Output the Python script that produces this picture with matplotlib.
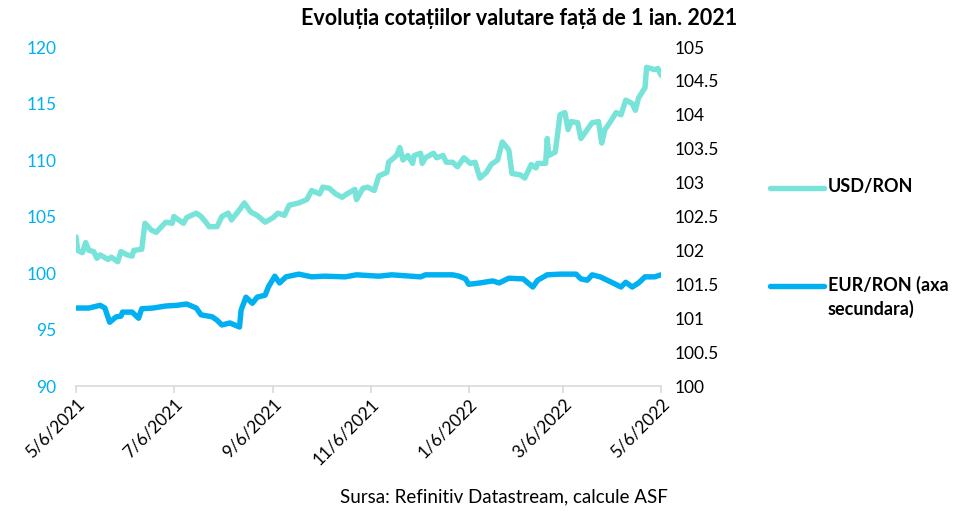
import datetime as dt
import matplotlib
matplotlib.use("Agg")
import matplotlib.pyplot as plt
import matplotlib.dates as mdates
from matplotlib.lines import Line2D
from matplotlib.ticker import FuncFormatter, MultipleLocator

plt.rcParams['font.family'] = ['Lato', 'DejaVu Sans']

# USD/RON, index vs 1 Jan 2021 (left axis)
usd_dates = ["2021-05-06", "2021-05-07", "2021-05-10", "2021-05-12", "2021-05-14", "2021-05-17",
             "2021-05-19", "2021-05-21", "2021-05-26", "2021-05-28", "2021-06-01", "2021-06-03",
             "2021-06-07", "2021-06-10", "2021-06-11", "2021-06-16", "2021-06-18", "2021-06-22",
             "2021-06-25", "2021-07-01", "2021-07-05", "2021-07-06", "2021-07-12", "2021-07-14",
             "2021-07-20", "2021-07-23", "2021-07-26", "2021-07-28", "2021-08-02", "2021-08-05",
             "2021-08-09", "2021-08-11", "2021-08-16", "2021-08-19", "2021-08-23", "2021-08-27",
             "2021-09-01", "2021-09-06", "2021-09-09", "2021-09-13", "2021-09-16", "2021-09-22",
             "2021-09-27", "2021-09-30", "2021-10-05", "2021-10-07", "2021-10-11", "2021-10-15",
             "2021-10-19", "2021-10-22", "2021-10-27", "2021-10-28", "2021-11-01", "2021-11-04",
             "2021-11-08", "2021-11-11", "2021-11-16", "2021-11-17", "2021-11-22", "2021-11-24",
             "2021-11-26", "2021-11-29", "2021-12-02", "2021-12-03", "2021-12-07", "2021-12-08",
             "2021-12-10", "2021-12-15", "2021-12-17", "2021-12-21", "2021-12-23", "2021-12-27",
             "2021-12-30", "2022-01-03", "2022-01-07", "2022-01-10", "2022-01-13", "2022-01-17",
             "2022-01-20", "2022-01-24", "2022-01-27", "2022-01-31", "2022-02-02", "2022-02-07",
             "2022-02-10", "2022-02-14", "2022-02-17", "2022-02-18", "2022-02-23", "2022-02-24",
             "2022-02-25", "2022-03-01", "2022-03-04", "2022-03-07", "2022-03-09", "2022-03-11",
             "2022-03-15", "2022-03-17", "2022-03-21", "2022-03-24", "2022-03-28", "2022-03-30",
             "2022-04-01", "2022-04-04", "2022-04-08", "2022-04-11", "2022-04-14", "2022-04-18",
             "2022-04-20", "2022-04-22", "2022-04-26", "2022-04-27", "2022-05-02", "2022-05-04",
             "2022-05-06"]
usd_ron = [103.2, 102.0, 101.8, 102.7, 102.0, 101.9,
           101.3, 101.6, 101.2, 101.4, 101.0, 101.9,
           101.6, 101.5, 102.0, 102.1, 104.4, 103.8,
           103.6, 104.5, 104.4, 105.0, 104.4, 104.9,
           105.3, 105.0, 104.5, 104.1, 104.1, 105.0,
           105.3, 104.7, 105.6, 106.2, 105.4, 105.1,
           104.5, 104.9, 105.3, 105.1, 106.0, 106.2,
           106.5, 107.3, 107.0, 107.6, 107.5, 107.0,
           106.7, 107.0, 107.4, 106.5, 107.5, 107.6,
           107.3, 108.6, 108.9, 109.8, 110.4, 111.1,
           110.0, 110.4, 109.7, 110.4, 110.6, 109.7,
           110.2, 110.6, 110.2, 110.4, 109.8, 109.8,
           109.4, 110.2, 109.7, 109.8, 108.4, 108.9,
           109.6, 110.0, 111.6, 110.9, 108.8, 108.7,
           108.4, 109.6, 109.3, 109.7, 109.7, 111.9,
           110.4, 110.7, 114.0, 114.2, 112.7, 113.4,
           113.3, 111.9, 112.7, 113.3, 113.4, 111.5,
           112.7, 113.3, 114.2, 114.0, 115.3, 115.0,
           114.4, 115.5, 116.4, 118.2, 118.0, 118.1,
           117.5]

# EUR/RON, index vs 1 Jan 2021 (secondary axis)
eur_dates = ["2021-05-06", "2021-05-14", "2021-05-21", "2021-05-24", "2021-05-27", "2021-05-31",
             "2021-06-03", "2021-06-04", "2021-06-10", "2021-06-14", "2021-06-16", "2021-06-23",
             "2021-07-01", "2021-07-08", "2021-07-14", "2021-07-20", "2021-07-23", "2021-07-30",
             "2021-08-02", "2021-08-05", "2021-08-10", "2021-08-16", "2021-08-17", "2021-08-20",
             "2021-08-24", "2021-08-27", "2021-09-01", "2021-09-03", "2021-09-07", "2021-09-10",
             "2021-09-14", "2021-09-22", "2021-09-30", "2021-10-08", "2021-10-21", "2021-10-28",
             "2021-11-11", "2021-11-19", "2021-12-07", "2021-12-10", "2021-12-27", "2021-12-31",
             "2022-01-04", "2022-01-06", "2022-01-13", "2022-01-21", "2022-01-25", "2022-01-31",
             "2022-02-09", "2022-02-15", "2022-02-18", "2022-02-24", "2022-03-04", "2022-03-14",
             "2022-03-17", "2022-03-21", "2022-03-24", "2022-03-29", "2022-04-06", "2022-04-11",
             "2022-04-14", "2022-04-18", "2022-04-22", "2022-04-26", "2022-05-02", "2022-05-06"]
eur_ron = [101.15, 101.15, 101.19, 101.15, 100.94, 101.02,
           101.03, 101.09, 101.09, 101.00, 101.14, 101.15,
           101.18, 101.19, 101.21, 101.15, 101.05, 101.02,
           100.97, 100.90, 100.93, 100.87, 101.12, 101.31,
           101.22, 101.31, 101.34, 101.46, 101.62, 101.52,
           101.61, 101.65, 101.61, 101.62, 101.61, 101.64,
           101.62, 101.64, 101.61, 101.64, 101.64, 101.62,
           101.58, 101.50, 101.52, 101.55, 101.52, 101.59,
           101.58, 101.46, 101.56, 101.64, 101.65, 101.65,
           101.58, 101.56, 101.64, 101.61, 101.52, 101.46,
           101.53, 101.46, 101.52, 101.61, 101.61, 101.64]

usd_x = [dt.datetime.strptime(d, "%Y-%m-%d") for d in usd_dates]
eur_x = [dt.datetime.strptime(d, "%Y-%m-%d") for d in eur_dates]

usd_color = "#78E3D8"
eur_color = "#00B0F0"

fig = plt.figure(figsize=(9.65, 5.11), dpi=100)
ax = fig.add_axes([0.0788, 0.2446, 0.6062, 0.6634])
ax2 = ax.twinx()

ax.plot(usd_x, usd_ron, color=usd_color, lw=3.9, solid_joinstyle="round", solid_capstyle="round")
ax2.plot(eur_x, eur_ron, color=eur_color, lw=3.9, solid_joinstyle="round", solid_capstyle="round")

ax.set_xlim(dt.datetime(2021, 5, 6), dt.datetime(2022, 5, 6))
ax.set_ylim(90, 120)
ax2.set_ylim(100, 105)
ax.yaxis.set_major_locator(MultipleLocator(5))
ax2.yaxis.set_major_locator(MultipleLocator(0.5))
ax2.yaxis.set_major_formatter(FuncFormatter(lambda v, p: f"{v:g}"))

ax.xaxis.set_major_locator(mdates.MonthLocator(bymonth=[1, 3, 5, 7, 9, 11], bymonthday=6))
ax.xaxis.set_major_formatter(FuncFormatter(
    lambda v, p: "{0.month}/{0.day}/{0.year}".format(mdates.num2date(v))))

for a in (ax, ax2):
    for s in a.spines.values():
        s.set_visible(False)
ax.spines["bottom"].set_visible(True)
ax.spines["bottom"].set_color("#D9D9D9")
ax.spines["bottom"].set_linewidth(1.2)

ax.tick_params(axis="y", length=0, labelsize=12.5, labelcolor=eur_color, pad=14)
ax2.tick_params(axis="y", length=0, labelsize=12.5, labelcolor="black", pad=10)
ax.tick_params(axis="x", length=5, width=1.2, color="#D9D9D9", labelsize=12.5, pad=2)
for lbl in ax.get_xticklabels():
    lbl.set_rotation(45)
    lbl.set_ha("right")
    lbl.set_va("top")
    lbl.set_rotation_mode("anchor")

fig.text(0.538, 0.963, "Evoluția cotațiilor valutare față de 1 ian. 2021",
         ha="center", va="center", fontsize=15.5, fontweight="bold")
fig.text(0.692, 0.027, "Sursa: Refinitiv Datastream, calcule ASF",
         ha="right", va="center", fontsize=13.5)

# legend drawn by hand to the right of the plot
leg_items = [("USD/RON", usd_color, 188), ("EUR/RON (axa\nsecundara)", eur_color, 286)]
for label, col, ypx in leg_items:
    yf = 1 - ypx / 511
    fig.add_artist(Line2D([770 / 965, 824 / 965], [yf, yf], color=col, lw=3.9,
                          solid_capstyle="round", transform=fig.transFigure))
    fig.text(828 / 965, yf + 10 / 511, label, ha="left", va="top",
             fontsize=13, fontweight="bold", linespacing=1.4)

fig.savefig("out.png", dpi=100)
